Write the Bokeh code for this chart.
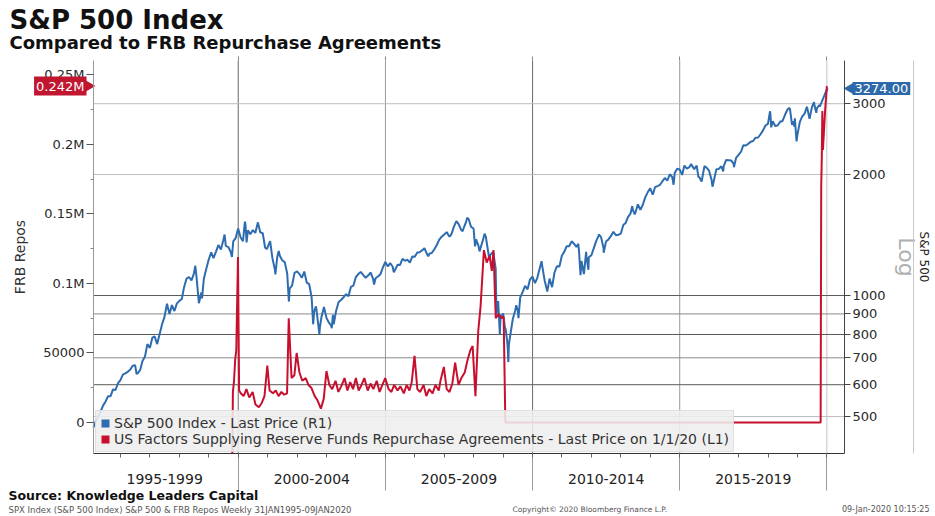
import math
import pandas as pd
from bokeh.plotting import figure
from bokeh.models import (Range1d, LogScale, LogAxis, DatetimeAxis, FixedTicker,
                          Label, Legend, LegendItem, ColumnDataSource, CustomJSTickFormatter)
from bokeh.embed import file_html
from bokeh.resources import INLINE

FONT = "DejaVu Sans"
BLUE = "#2e6cb0"
RED = "#c8102e"

# ---------------- data ----------------
# S&P 500 month-end closes, Jan..Dec of each year
spx_1995_1999 = [470, 487, 501, 515, 533, 545, 562, 562, 584, 582, 605, 616,
                 636, 640, 646, 654, 669, 671, 640, 652, 687, 705, 757, 741,
                 786, 791, 757, 801, 848, 885, 954, 899, 947, 915, 955, 970,
                 980, 1049, 1102, 1112, 1091, 1134, 1121, 957, 1017, 1099, 1164, 1229,
                 1280, 1238, 1286, 1335, 1302, 1373, 1329, 1320, 1283, 1363, 1389, 1469]
spx_2000_2004 = [1394, 1366, 1499, 1452, 1421, 1455, 1431, 1518, 1437, 1429, 1315, 1320,
                 1366, 1240, 1160, 1249, 1256, 1224, 1211, 1134, 1041, 1060, 1139, 1148,
                 1130, 1107, 1147, 1077, 1067, 990, 912, 916, 815, 886, 936, 880,
                 856, 841, 848, 917, 964, 975, 990, 1008, 996, 1051, 1058, 1112,
                 1131, 1145, 1126, 1107, 1121, 1141, 1102, 1104, 1115, 1130, 1174, 1212]
spx_2005_2009 = [1181, 1204, 1181, 1157, 1192, 1191, 1234, 1220, 1229, 1207, 1250, 1248,
                 1280, 1281, 1295, 1311, 1270, 1270, 1277, 1304, 1336, 1378, 1401, 1418,
                 1438, 1407, 1421, 1482, 1531, 1503, 1455, 1474, 1527, 1549, 1481, 1468,
                 1379, 1331, 1323, 1386, 1400, 1280, 1267, 1283, 1166, 969, 896, 903,
                 826, 735, 798, 873, 919, 919, 988, 1021, 1057, 1036, 1096, 1115]
spx_2010_2014 = [1074, 1105, 1169, 1187, 1089, 1031, 1102, 1049, 1141, 1183, 1181, 1258,
                 1286, 1327, 1326, 1364, 1345, 1321, 1292, 1219, 1131, 1253, 1247, 1258,
                 1312, 1366, 1409, 1398, 1310, 1362, 1379, 1407, 1441, 1412, 1416, 1426,
                 1498, 1515, 1569, 1598, 1631, 1606, 1686, 1633, 1682, 1757, 1806, 1848,
                 1783, 1860, 1872, 1884, 1924, 1960, 1931, 2003, 1972, 2018, 2068, 2059]
spx_2015_2019 = [1995, 2105, 2068, 2086, 2107, 2063, 2104, 1972, 1920, 2079, 2080, 2044,
                 1940, 1932, 2060, 2065, 2097, 2099, 2174, 2171, 2168, 2126, 2199, 2239,
                 2279, 2364, 2363, 2384, 2412, 2423, 2470, 2472, 2519, 2575, 2648, 2674,
                 2824, 2714, 2641, 2648, 2705, 2718, 2816, 2902, 2914, 2712, 2760, 2507,
                 2704, 2785, 2834, 2946, 2752, 2942, 2980, 2927, 2977, 3038, 3141, 3231]
# weekly highs/lows between month ends
spx_week_dates = ["1996-07-19", "1998-07-17", "1998-10-09", "1999-07-16", "1999-10-15",
                  "2000-03-24", "2000-04-14", "2000-09-01", "2000-12-22", "2001-04-06",
                  "2001-05-18", "2001-09-21", "2002-07-19", "2002-08-23", "2002-10-04",
                  "2002-10-11", "2003-03-07", "2003-03-21", "2004-08-13", "2005-04-15",
                  "2006-06-16", "2007-03-09", "2007-08-17", "2007-10-12", "2008-01-18",
                  "2008-03-14", "2008-05-16", "2008-07-11", "2008-10-10", "2008-10-17",
                  "2008-11-21", "2008-12-12", "2009-01-23", "2009-02-20", "2009-03-06",
                  "2009-03-13", "2009-06-12", "2009-07-10", "2010-04-23", "2010-07-02",
                  "2011-07-22", "2011-08-19", "2011-10-28", "2011-11-25", "2012-04-02",
                  "2012-06-01", "2013-05-21", "2013-06-21", "2014-02-07", "2014-10-17",
                  "2015-05-22", "2015-08-21", "2015-09-25", "2015-11-06", "2016-02-12",
                  "2016-06-24", "2016-11-04", "2018-01-26", "2018-02-09", "2018-09-21",
                  "2018-10-26", "2018-11-23", "2018-12-21", "2019-04-26", "2019-07-26",
                  "2019-08-23", "2019-10-04", "2019-12-27", "2020-01-09"]
spx_week_values = [638, 1186, 984, 1418, 1247,
                   1527, 1356, 1520, 1305, 1128,
                   1291, 966, 848, 940, 801,
                   835, 829, 895, 1065, 1143,
                   1251, 1402, 1445, 1561, 1325,
                   1288, 1425, 1239, 899, 940,
                   800, 879, 832, 770, 683,
                   756, 946, 879, 1217, 1023,
                   1345, 1124, 1285, 1159, 1419,
                   1278, 1669, 1592, 1797, 1886,
                   2126, 1971, 1931, 2099, 1865,
                   2037, 2085, 2873, 2620, 2930,
                   2659, 2633, 2417, 2940, 3026,
                   2847, 2952, 3240, 3274]

# FRB repurchase agreements (millions USD)
repo_dates = ["1999-10-20", "1999-10-27", "1999-11-10", "1999-11-24", "1999-12-08", "1999-12-29",
              "2000-01-12", "2000-02-02", "2000-03-08", "2000-04-12", "2000-05-17", "2000-06-28",
              "2000-08-02", "2000-09-13", "2000-10-18", "2000-11-22", "2000-12-27",
              "2001-01-24", "2001-03-07", "2001-04-11", "2001-05-16", "2001-06-20", "2001-07-25",
              "2001-08-29", "2001-09-19", "2001-10-24", "2001-11-28", "2001-12-26",
              "2002-01-30", "2002-03-06", "2002-04-17", "2002-05-22", "2002-06-26", "2002-08-07",
              "2002-09-11", "2002-10-23", "2002-11-27", "2002-12-31",
              "2003-02-05", "2003-03-12", "2003-04-23", "2003-05-28", "2003-07-02", "2003-08-13",
              "2003-09-17", "2003-10-22", "2003-11-26", "2003-12-31",
              "2004-02-04", "2004-03-10", "2004-04-14", "2004-05-26", "2004-06-30", "2004-08-04",
              "2004-09-15", "2004-10-20", "2004-11-24", "2004-12-29",
              "2005-02-09", "2005-03-16", "2005-04-20", "2005-06-01", "2005-07-06", "2005-08-17",
              "2005-09-21", "2005-10-26", "2005-11-23", "2005-12-28",
              "2006-02-01", "2006-03-08", "2006-04-19", "2006-05-24", "2006-06-28", "2006-08-09",
              "2006-09-13", "2006-10-25", "2006-11-15", "2006-12-27",
              "2007-01-31", "2007-03-07", "2007-04-11", "2007-05-16", "2007-06-27", "2007-08-01",
              "2007-09-12", "2007-10-17", "2007-11-21", "2007-12-19",
              "2008-01-23", "2008-02-27", "2008-03-26", "2008-05-07", "2008-06-11", "2008-07-16",
              "2008-08-13", "2008-09-03", "2008-10-01", "2008-11-05", "2008-12-10",
              "2009-01-07", "2009-01-28",
              "2019-10-16", "2019-10-23", "2019-10-30", "2019-11-06", "2019-11-13", "2019-11-27",
              "2019-12-11", "2019-12-25", "2020-01-01"]
repo_values = [-22000, 22000, 30000, 45000, 52000, 119000,
               23000, 21000, 19000, 24000, 18000, 22000,
               13000, 11000, 14000, 19000, 41000,
               23000, 21000, 23000, 19000, 22000, 20000,
               21000, 75000, 32000, 34000, 50000,
               36000, 30000, 32000, 27000, 25000, 19000,
               16000, 10000, 17000, 37000,
               27000, 24000, 30000, 22000, 26000, 32000,
               23000, 29000, 24000, 32000,
               23000, 27000, 32000, 23000, 28000, 24000,
               30000, 22000, 27000, 32000,
               24000, 22000, 27000, 23000, 26000, 21000,
               27000, 23000, 29000, 48000,
               24000, 22000, 27000, 19000, 24000, 21000,
               27000, 23000, 30000, 40000,
               24000, 22000, 28000, 43000, 27000, 32000,
               36000, 45000, 52000, 55000,
               19000, 66000, 83000, 124000, 115000, 120000,
               109000, 124000, 75000, 78000, 75000,
               76000, 0,
               0, 170000, 190000, 224000, 196000, 210000,
               225000, 236000, 242000]

block_labels = ["1995-1999", "2000-2004", "2005-2009", "2010-2014", "2015-2019"]
left_ticks = [0, 50000, 100000, 150000, 200000, 250000]
left_tick_labels = ["0", "50000", "0.1M", "0.15M", "0.2M", "0.25M"]
right_ticks = [500, 600, 700, 800, 900, 1000, 2000, 3000]
last_repo_label = "0.242M"
last_spx_label = "3274.00"
legend_labels = ["S&P 500 Index - Last Price (R1)",
                 "US Factors Supplying Reserve Funds Repurchase Agreements - Last Price on 1/1/20 (L1)"]


def ms(d):
    return pd.Timestamp(d).value / 1e6


# ---------------- assemble series ----------------
month_dates = [pd.Timestamp(y, m, 1) + pd.offsets.MonthEnd(0)
               for y in range(1995, 2020) for m in range(1, 13)]
month_vals = spx_1995_1999 + spx_2000_2004 + spx_2005_2009 + spx_2010_2014 + spx_2015_2019
spx = pd.DataFrame({"x": month_dates + [pd.Timestamp(d) for d in spx_week_dates],
                    "y": month_vals + spx_week_values}).sort_values("x")
spx_src = ColumnDataSource(dict(x=spx["x"].values, y=spx["y"].values))
repo_src = ColumnDataSource(dict(x=pd.to_datetime(repo_dates).values, y=repo_values))

# ---------------- layout: frame = whole canvas, plot area inside it ----------------
W, H = 935, 516
PL, PR, PT, PB = 93, 844, 60, 453          # plot area (px)
t0, t1 = ms("1995-01-31"), ms("2020-08-07")  # x extent of plot area
y_lo, y_hi = -22300, 260400                 # left axis extent
s_lo, s_hi = math.log10(404.6), math.log10(3843)  # right (log) axis extent
kx = (t1 - t0) / (PR - PL)
ky = (y_hi - y_lo) / (PB - PT)
ks = (s_hi - s_lo) / (PB - PT)

p = figure(width=W, height=H, x_axis_type="datetime",
           x_range=Range1d(t0 - PL * kx, t1 + (W - PR) * kx),
           y_range=Range1d(y_lo - (H - PB) * ky, y_hi + PT * ky),
           output_backend="svg", toolbar_location=None,
           min_border=0, min_border_left=0, min_border_right=0, min_border_top=0,
           min_border_bottom=0, outline_line_color=None,
           background_fill_color="white", border_fill_color="white")
p.extra_y_ranges = {"spx": Range1d(10 ** (s_lo - (H - PB) * ks), 10 ** (s_hi + PT * ks)),
                    "px": Range1d(H, 0)}
p.extra_y_scales = {"spx": LogScale()}
p.extra_x_ranges = {"px": Range1d(0, W)}
p.xgrid.visible = False
p.ygrid.visible = False

no_labels = CustomJSTickFormatter(code="return ''")

# ---------------- grid lines ----------------
for yrs, col in [([2000, 2010], "#6a6a6a"), ([2005, 2015], "#9a9a9a"), ([2020], "#c4c4c4")]:
    xs = [ms(f"{y}-01-01") for y in yrs]
    p.segment(x0=xs, x1=xs, y0=y_lo, y1=y_hi, line_color=col, line_width=1)
for vals, col in [([600, 800, 1000], "#5a5a5a"), ([700, 900], "#8a8a8a"), ([500, 2000, 3000], "#bdbdbd")]:
    p.segment(x0=t0, x1=t1, y0=vals, y1=vals, y_range_name="spx", line_color=col, line_width=1)

# ---------------- axes (fixed to the plot-area edges) ----------------
sep_years = [2000, 2005, 2010, 2015, 2020]
xa = p.xaxis[0]
xa.fixed_location = y_lo
xa.bounds = (t0, t1)
xa.ticker = FixedTicker(ticks=[ms(f"{y}-01-01") for y in sep_years],
                        minor_ticks=[ms(f"{y}-01-01") for y in range(1996, 2021)])
xa.formatter = no_labels
xa.major_tick_out = 37
xa.major_tick_in = 0
xa.major_tick_line_color = "#9a9a9a"
xa.minor_tick_out = 4
xa.minor_tick_in = 0
xa.minor_tick_line_color = "#666666"
xa.axis_line_color = "#333333"

top = DatetimeAxis(fixed_location=y_hi, bounds=(t0, t1),
                   ticker=FixedTicker(ticks=[ms(f"{y}-01-01") for y in sep_years], minor_ticks=[]),
                   formatter=CustomJSTickFormatter(code="return ''"),
                   major_tick_out=4, major_tick_in=0, major_tick_line_color="#888888",
                   axis_line_color=None)
p.add_layout(top, "above")

ya = p.yaxis[0]
ya.fixed_location = t0
ya.bounds = (y_lo, y_hi)
ya.ticker = FixedTicker(ticks=left_ticks, minor_ticks=[25000, 75000, 125000, 175000, 225000])
ya.major_label_overrides = {t: s for t, s in zip(left_ticks, left_tick_labels)}
ya.major_tick_out = 7
ya.major_tick_in = 0
ya.minor_tick_out = 3
ya.minor_tick_in = 0
ya.major_tick_line_color = "#555555"
ya.minor_tick_line_color = "#888888"
ya.axis_line_color = "#999999"
ya.major_label_standoff = 2
ya.major_label_text_font = FONT
ya.major_label_text_font_size = "13px"
ya.major_label_text_color = "#2a2a2a"
ya.axis_label = "FRB Repos"
ya.axis_label_text_font = FONT
ya.axis_label_text_font_size = "14px"
ya.axis_label_text_font_style = "normal"
ya.axis_label_text_color = "#333333"
ya.axis_label_standoff = 12

ra = LogAxis(y_range_name="spx", fixed_location=t1, bounds=(10 ** s_lo, 10 ** s_hi),
             ticker=FixedTicker(ticks=right_ticks, minor_ticks=[]),
             major_label_overrides={t: str(t) for t in right_ticks},
             major_tick_out=6, major_tick_in=0, major_tick_line_color="#444444",
             axis_line_color="#444444", major_label_standoff=2,
             major_label_text_font=FONT, major_label_text_font_size="13px",
             major_label_text_color="#2a2a2a",
             axis_label="Log", axis_label_text_font=FONT, axis_label_text_font_size="22px",
             axis_label_text_font_style="normal", axis_label_text_color="#b0b0b0",
             axis_label_standoff=5)
p.add_layout(ra, "right")
ra2 = LogAxis(y_range_name="spx", fixed_location=t1 + (913 - PR) * kx,
              bounds=(10 ** s_lo, 10 ** s_hi),
              ticker=FixedTicker(ticks=[], minor_ticks=[]), major_tick_out=0,
              formatter=CustomJSTickFormatter(code="return ''"),
              axis_line_color="#c8c8c8",
              axis_label="S&P 500", axis_label_text_font=FONT, axis_label_text_font_size="12px",
              axis_label_text_font_style="normal", axis_label_text_color="#222222",
              axis_label_standoff=3)
p.add_layout(ra2, "right")

# ---------------- series ----------------
p.line("x", "y", source=spx_src, y_range_name="spx", line_color=BLUE, line_width=2)
p.line("x", "y", source=repo_src, line_color=RED, line_width=2)

# legend swatches (zero-size quads at the last points)
last_spx_t = spx["x"].values[-1]
last_repo_t = pd.Timestamp(repo_dates[-1])
sw_b = p.quad(left=[last_spx_t], right=[last_spx_t], top=[spx_week_values[-1]],
              bottom=[spx_week_values[-1]], y_range_name="spx", fill_color=BLUE, line_color=None)
sw_r = p.quad(left=[last_repo_t], right=[last_repo_t], top=[repo_values[-1]],
              bottom=[repo_values[-1]], fill_color=RED, line_color=None)
legend = Legend(items=[LegendItem(label=legend_labels[0], renderers=[sw_b]),
                       LegendItem(label=legend_labels[1], renderers=[sw_r])],
                location=(PL + 2, H - PB + 1), margin=0, padding=4, spacing=0,
                glyph_width=10, glyph_height=10, label_height=14, label_standoff=4,
                label_text_font=FONT, label_text_font_size="14px", label_text_color="#333333",
                background_fill_color="#eeeeee", background_fill_alpha=0.88,
                border_line_color="#d0d0d0")
p.add_layout(legend)

# ---------------- value tags ----------------
p.add_layout(Label(x=PL - 7, x_range_name="px", y=repo_values[-1], text=last_repo_label,
                   text_align="right", text_baseline="middle", text_font=FONT,
                   text_font_size="13px", text_color="white",
                   background_fill_color="#c0162f", padding=2))
p.scatter(x=[PL - 5], y=[repo_values[-1]], x_range_name="px", marker="triangle",
          angle=-math.pi / 2, size=12, fill_color="#c0162f", line_color=None)
p.add_layout(Label(x=PR + 8, x_range_name="px", y=spx_week_values[-1], y_range_name="spx",
                   text=last_spx_label, text_align="left", text_baseline="middle",
                   text_font=FONT, text_font_size="13px", text_color="white",
                   background_fill_color="#2d69a8", padding=2))
p.scatter(x=[PR + 6], y=[spx_week_values[-1]], x_range_name="px", y_range_name="spx",
          marker="triangle", angle=math.pi / 2, size=12, fill_color="#2d69a8", line_color=None)


def text(x, y, s, size, bold=False, align="left", color="#111111", x_range_name="px"):
    p.add_layout(Label(x=x, y=y, x_range_name=x_range_name, y_range_name="px", text=s,
                       text_align=align, text_baseline="middle", text_font=FONT,
                       text_font_size=size, text_font_style="bold" if bold else "normal",
                       text_color=color))


# period labels under the axis
for i, lab in enumerate(block_labels):
    text(ms(f"{1997 + 5 * i}-07-02"), 478, lab, "14px", align="center", color="#222222",
         x_range_name="default")

# titles and footers
text(9, 19, "S&P 500 Index", "26px", bold=True)
text(9, 42, "Compared to FRB Repurchase Agreements", "18px", bold=True)
text(8, 495, "Source: Knowledge Leaders Capital", "12.5px", bold=True)
text(8, 509, "SPX Index (S&P 500 Index) S&P 500 & FRB Repos  Weekly 31JAN1995-09JAN2020",
     "8.5px", color="#555555")
text(512, 509, "Copyright\u00a9 2020 Bloomberg Finance L.P.", "7.5px", color="#555555")
text(929, 509, "09-Jan-2020 10:15:25", "8px", align="right", color="#555555")

open("out.html", "w").write(file_html(p, INLINE))
